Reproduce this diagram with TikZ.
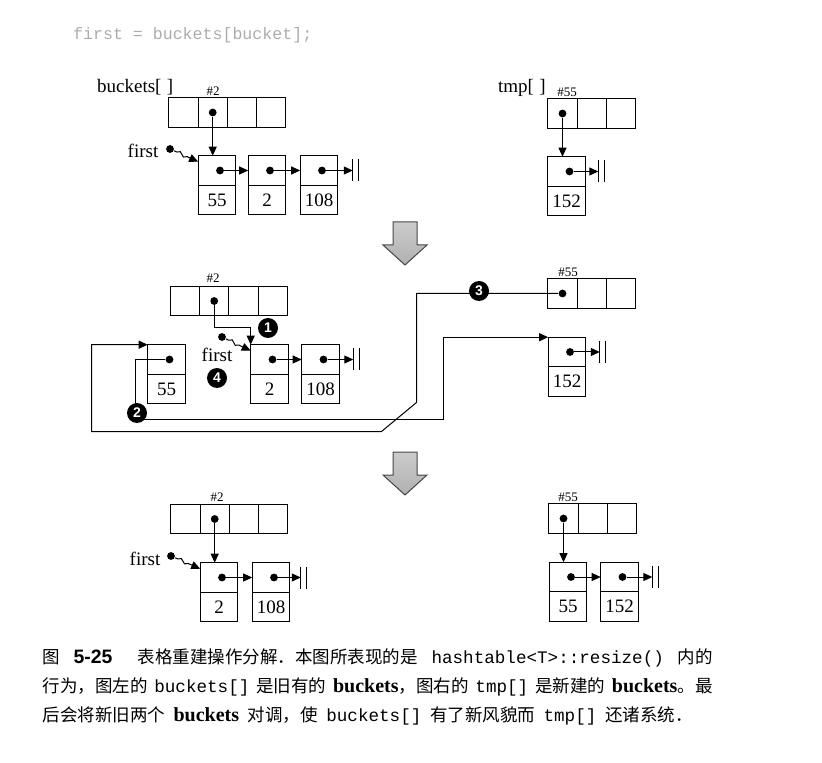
\documentclass[tikz,border=0pt]{standalone}
\usepackage{fontspec}
\setmainfont{Liberation Serif}
\setsansfont{Liberation Sans}
\setmonofont{Liberation Mono}
\newfontfamily\cjk{Noto Sans CJK SC}
\usetikzlibrary{arrows.meta, positioning, decorations.pathmorphing}

\newcommand{\capword}[1]{{\rmfamily\bfseries\fontsize{10}{12}\selectfont #1}}
\newcommand{\capcode}[1]{{\ttfamily\fontsize{8.8}{12}\selectfont #1}}

\begin{document}
\begin{tikzpicture}[
  x=0.5pt, y=-0.5pt,
  line width=0.5pt,
  font=\fontsize{9.5}{11}\selectfont,
  cell/.style={rectangle, draw=black, minimum width=14.6pt, minimum height=14.6pt, inner sep=0pt, outer sep=0pt},
  ptrbox/.style={rectangle, draw=black, minimum width=18.8pt, minimum height=14.8pt, inner sep=0pt, outer sep=0pt},
  dot/.style={circle, fill=black, inner sep=0pt, minimum size=3.9pt},
  nilbar/.style={inner sep=0pt, outer sep=0pt, minimum width=3pt, minimum height=11pt},
  ptr/.style={-{Triangle[length=4.5pt,width=4pt]}},
  squig/.style={-{Triangle[length=4.5pt,width=4pt]}, decorate, decoration={snake, amplitude=0.9pt, segment length=5pt, pre length=1.5pt, post length=4.5pt}},
  slot/.style={font=\fontsize{6.5}{7}\selectfont, inner sep=0pt},
  badge/.style={circle, fill=black, text=white, inner sep=0pt, minimum size=10pt, font=\sffamily\bfseries\fontsize{7}{7}\selectfont},
  bigdown/.pic={
    \shade[top color=gray!40, bottom color=gray!62, draw=gray!55!black]
      (-12,0) -- (12,0) -- (12,23) -- (22,23) -- (0,43) -- (-22,23) -- (-12,23) -- cycle;
  }
]
\useasboundingbox (0,0) rectangle (822,763);

% code line
\node[anchor=west, text=gray!65, font=\ttfamily\fontsize{8.3}{10}\selectfont] (code) at (66,35) {first = buckets[bucket];};

% ---- step a: before ----
\node[anchor=west] (abl) at (90,87) {buckets[\;]};
\node[slot] (aba) at (213,91) {\#2};
\node[cell] (ab1) at (183.5,112.5) {};
\foreach \i [count=\j from 2] in {1,2,3}
  \node[cell, right=0pt of ab\i] (ab\j) {};
\node[dot] (abd) at (ab2) {};

\node[ptrbox] (a55p) at (217,170.5) {};
\node[ptrbox, below=0pt of a55p] (a55v) {55};
\node[ptrbox] (a2p) at (267,170.5) {};
\node[ptrbox, below=0pt of a2p] (a2v) {2};
\node[ptrbox] (a108p) at (319,170.5) {};
\node[ptrbox, below=0pt of a108p] (a108v) {108};
\node[dot, xshift=1.5pt] (a55d) at (a55p) {};
\node[dot, xshift=1.5pt] (a2d) at (a2p) {};
\node[dot, xshift=1.5pt] (a108d) at (a108p) {};
\node[nilbar, right=7.5pt of a108p] (az1) {};

\node (af) at (143,151) {first};
\node[dot] (afd) at (170,149) {};

\draw[ptr] (abd) -- (abd |- a55p.north);
\draw[ptr] (a55d) -- (a2p.west);
\draw[ptr] (a2d) -- (a108p.west);
\draw[ptr] (a108d) -- (az1.west);
\draw[squig] (afd) -- (a55p.155);

\node[anchor=west] (atl) at (491,88) {tmp[\;]};
\node[slot] (ata) at (567,92) {\#55};
\node[cell] (at1) at (562.5,113.5) {};
\foreach \i [count=\j from 2] in {1,2}
  \node[cell, right=0pt of at\i] (at\j) {};
\node[dot] (atd) at (at1) {};
\node[ptrbox] (a152p) at (566.5,171.5) {};
\node[ptrbox, below=0pt of a152p] (a152v) {152};
\node[dot, xshift=1.5pt] (a152d) at (a152p) {};
\node[nilbar, right=6.5pt of a152p] (az2) {};
\draw[ptr] (atd) -- (atd |- a152p.north);
\draw[ptr] (a152d) -- (az2.west);

\pic at (405,222) {bigdown};

% ---- step b: moving node 55 ----
\node[slot] (bba) at (213,278) {\#2};
\node[cell] (bb1) at (185,301) {};
\foreach \i [count=\j from 2] in {1,2,3}
  \node[cell, right=0pt of bb\i] (bb\j) {};
\node[dot] (bbd) at (bb2) {};

\node[ptrbox] (b55p) at (166.5,359.5) {};
\node[ptrbox, below=0pt of b55p] (b55v) {55};
\node[ptrbox] (b2p) at (269.5,359.5) {};
\node[ptrbox, below=0pt of b2p] (b2v) {2};
\node[ptrbox] (b108p) at (320.5,359.5) {};
\node[ptrbox, below=0pt of b108p] (b108v) {108};
\node[dot, xshift=1.5pt] (b55d) at (b55p) {};
\node[dot, xshift=1.5pt] (b2d) at (b2p) {};
\node[dot, xshift=1.5pt] (b108d) at (b108p) {};
\node[nilbar, right=7pt of b108p] (bz1) {};

\node (bf) at (217,355) {first};
\node[dot] (bfd) at (222,337) {};

\node[slot] (bta) at (568,272) {\#55};
\node[cell] (bt1) at (562.5,293.5) {};
\foreach \i [count=\j from 2] in {1,2}
  \node[cell, right=0pt of bt\i] (bt\j) {};
\node[dot] (btd) at (bt1) {};
\node[ptrbox] (b152p) at (567,352) {};
\node[ptrbox, below=0pt of b152p] (b152v) {152};
\node[dot, xshift=1.5pt] (b152d) at (b152p) {};
\node[nilbar, right=7pt of b152p] (bz2) {};

\draw[ptr] (b2d) -- (b108p.west);
\draw[ptr] (b108d) -- (bz1.west);
\draw[ptr] (b152d) -- (bz2.west);
\draw[squig] (bfd) -- (b2p.155);
\draw[ptr] (bbd) -- ++(0,27) -| (b2p.north west);
\draw[ptr] (b55d) -- ++(-34,0) |- ++(308,60) |- (b152p.north west);
\draw[ptr] (btd) -- ++(-146,0) -- ++(0,109) -- ++(-35,29) -- ++(-290,0) |- (b55p.north west);

\node[badge] (bn1) at (268,328) {1};
\node[badge] (bn2) at (137,413) {2};
\node[badge] (bn3) at (479,291) {3};
\node[badge] (bn4) at (217,378) {4};

\pic at (405,452) {bigdown};

% ---- step c: after ----
\node[slot] (cba) at (217,497) {\#2};
\node[cell] (cb1) at (185.5,519) {};
\foreach \i [count=\j from 2] in {1,2,3}
  \node[cell, right=0pt of cb\i] (cb\j) {};
\node[dot] (cbd) at (cb2) {};

\node[ptrbox] (c2p) at (219,577.5) {};
\node[ptrbox, below=0pt of c2p] (c2v) {2};
\node[ptrbox] (c108p) at (271,577.5) {};
\node[ptrbox, below=0pt of c108p] (c108v) {108};
\node[dot, xshift=1.5pt] (c2d) at (c2p) {};
\node[dot, xshift=1.5pt] (c108d) at (c108p) {};
\node[nilbar, right=5.5pt of c108p] (cz1) {};

\node (cf) at (145,559) {first};
\node[dot] (cfd) at (171,556) {};

\draw[ptr] (cbd) -- (cbd |- c2p.north);
\draw[ptr] (c2d) -- (c108p.west);
\draw[ptr] (c108d) -- (cz1.west);
\draw[squig] (cfd) -- (c2p.155);

\node[slot] (cta) at (568,497) {\#55};
\node[cell] (ct1) at (563.5,518.5) {};
\foreach \i [count=\j from 2] in {1,2}
  \node[cell, right=0pt of ct\i] (ct\j) {};
\node[dot] (ctd) at (ct1) {};
\node[ptrbox] (c55p) at (568,577) {};
\node[ptrbox, below=0pt of c55p] (c55v) {55};
\node[ptrbox] (c152p) at (619.5,577) {};
\node[ptrbox, below=0pt of c152p] (c152v) {152};
\node[dot, xshift=1.5pt] (c55d) at (c55p) {};
\node[dot, xshift=1.5pt] (c152d) at (c152p) {};
\node[nilbar, right=7pt of c152p] (cz2) {};

\draw[ptr] (ctd) -- (ctd |- c55p.north);
\draw[ptr] (c55d) -- (c152p.west);
\draw[ptr] (c152d) -- (cz2.west);

% nil bars
\foreach \z in {az1,az2,bz1,bz2,cz1,cz2}
  \draw (\z.north west) -- (\z.south west) (\z.north east) -- (\z.south east);

% caption
\node[anchor=west, inner sep=0pt, font=\cjk\fontsize{8.75}{10}\selectfont] (cap1) at (42,658)
  {\makebox[335pt][s]{图 {\sffamily\bfseries\fontsize{9.7}{10}\selectfont 5-25}\hspace{6pt} 表格重建操作分解．本图所表现的是 \capcode{hashtable<T>::resize()} 内的}};
\node[anchor=west, inner sep=0pt, font=\cjk\fontsize{8.75}{10}\selectfont] (cap2) at (42,687)
  {\makebox[335pt][s]{行为，图左的 \capcode{buckets[]} 是旧有的 \capword{buckets}，图右的 \capcode{tmp[]} 是新建的 \capword{buckets}。最}};
\node[anchor=west, inner sep=0pt, font=\cjk\fontsize{8.75}{10}\selectfont] (cap3) at (42,716)
  {\makebox[325pt][s]{后会将新旧两个 \capword{buckets} 对调，使 \capcode{buckets[]} 有了新风貌而 \capcode{tmp[]} 还诸系统．}};
\end{tikzpicture}
\end{document}
